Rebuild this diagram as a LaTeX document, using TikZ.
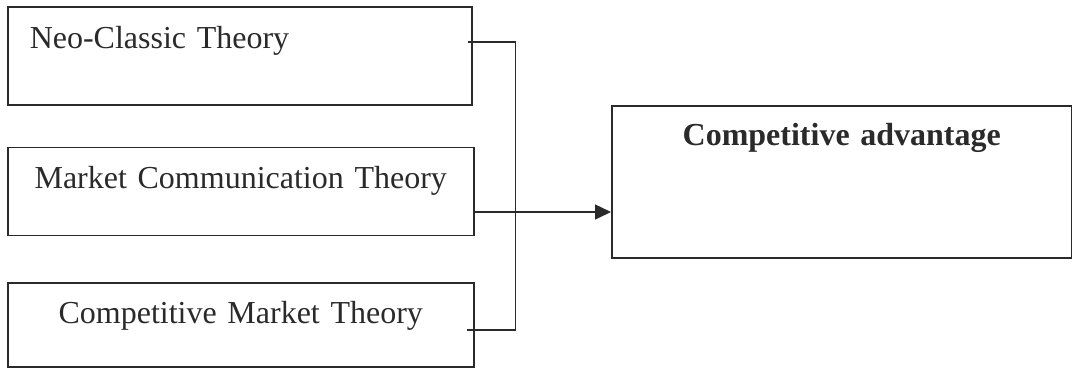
\documentclass[tikz,border=0pt]{standalone}
\usepackage{fontspec}
\setmainfont{Liberation Serif}
\usepackage{tikz}
\usetikzlibrary{arrows.meta,positioning,calc}
\definecolor{ink}{HTML}{2A2A2A}
\tikzset{
  thbox/.style={draw=ink,line width=1.5pt,rectangle,inner sep=0pt,anchor=north west,text=ink},
  varr/.style={-{Triangle[length=16pt,width=15pt]},line width=1.5pt,draw=ink},
  vline/.style={line width=1.5pt,draw=ink}
}
\begin{document}
\begin{tikzpicture}[x=1pt,y=-1pt,font=\fontsize{32}{38}\selectfont]
  \useasboundingbox (0,0) rectangle (1072,368);
  % theory boxes on the left
  \node[thbox,inner xsep=22pt,text width=420pt,align=left,text height=42pt,text depth=56pt]
    (neo) at (7,6) {Neo-Classic Theory};
  \node[thbox,text width=466pt,align=center,text height=41.5pt,text depth=46.5pt]
    (mct) at (7,146.5) {Market Communication Theory};
  \node[thbox,text width=466pt,align=center,text height=41pt,text depth=43pt]
    (cmt) at (7,282) {Competitive Market Theory};
  % outcome box
  \node[thbox,text width=460pt,align=center,text height=40pt,text depth=112pt]
    (adv) at (611,105) {\textbf{Competitive advantage}};
  % bracket joining the outer theories
  \coordinate (bustop) at (515.5,42);
  \coordinate (busbot) at (515.5,330);
  \coordinate (arrowy) at (0,212);
  \draw[vline] ($(neo.east|-bustop)+(-5,0)$) -- (bustop) -- (busbot) -- ($(cmt.east|-busbot)+(-8,0)$);
  \draw[varr] (mct.east|-arrowy) -- (adv.west|-arrowy);
\end{tikzpicture}
\end{document}
